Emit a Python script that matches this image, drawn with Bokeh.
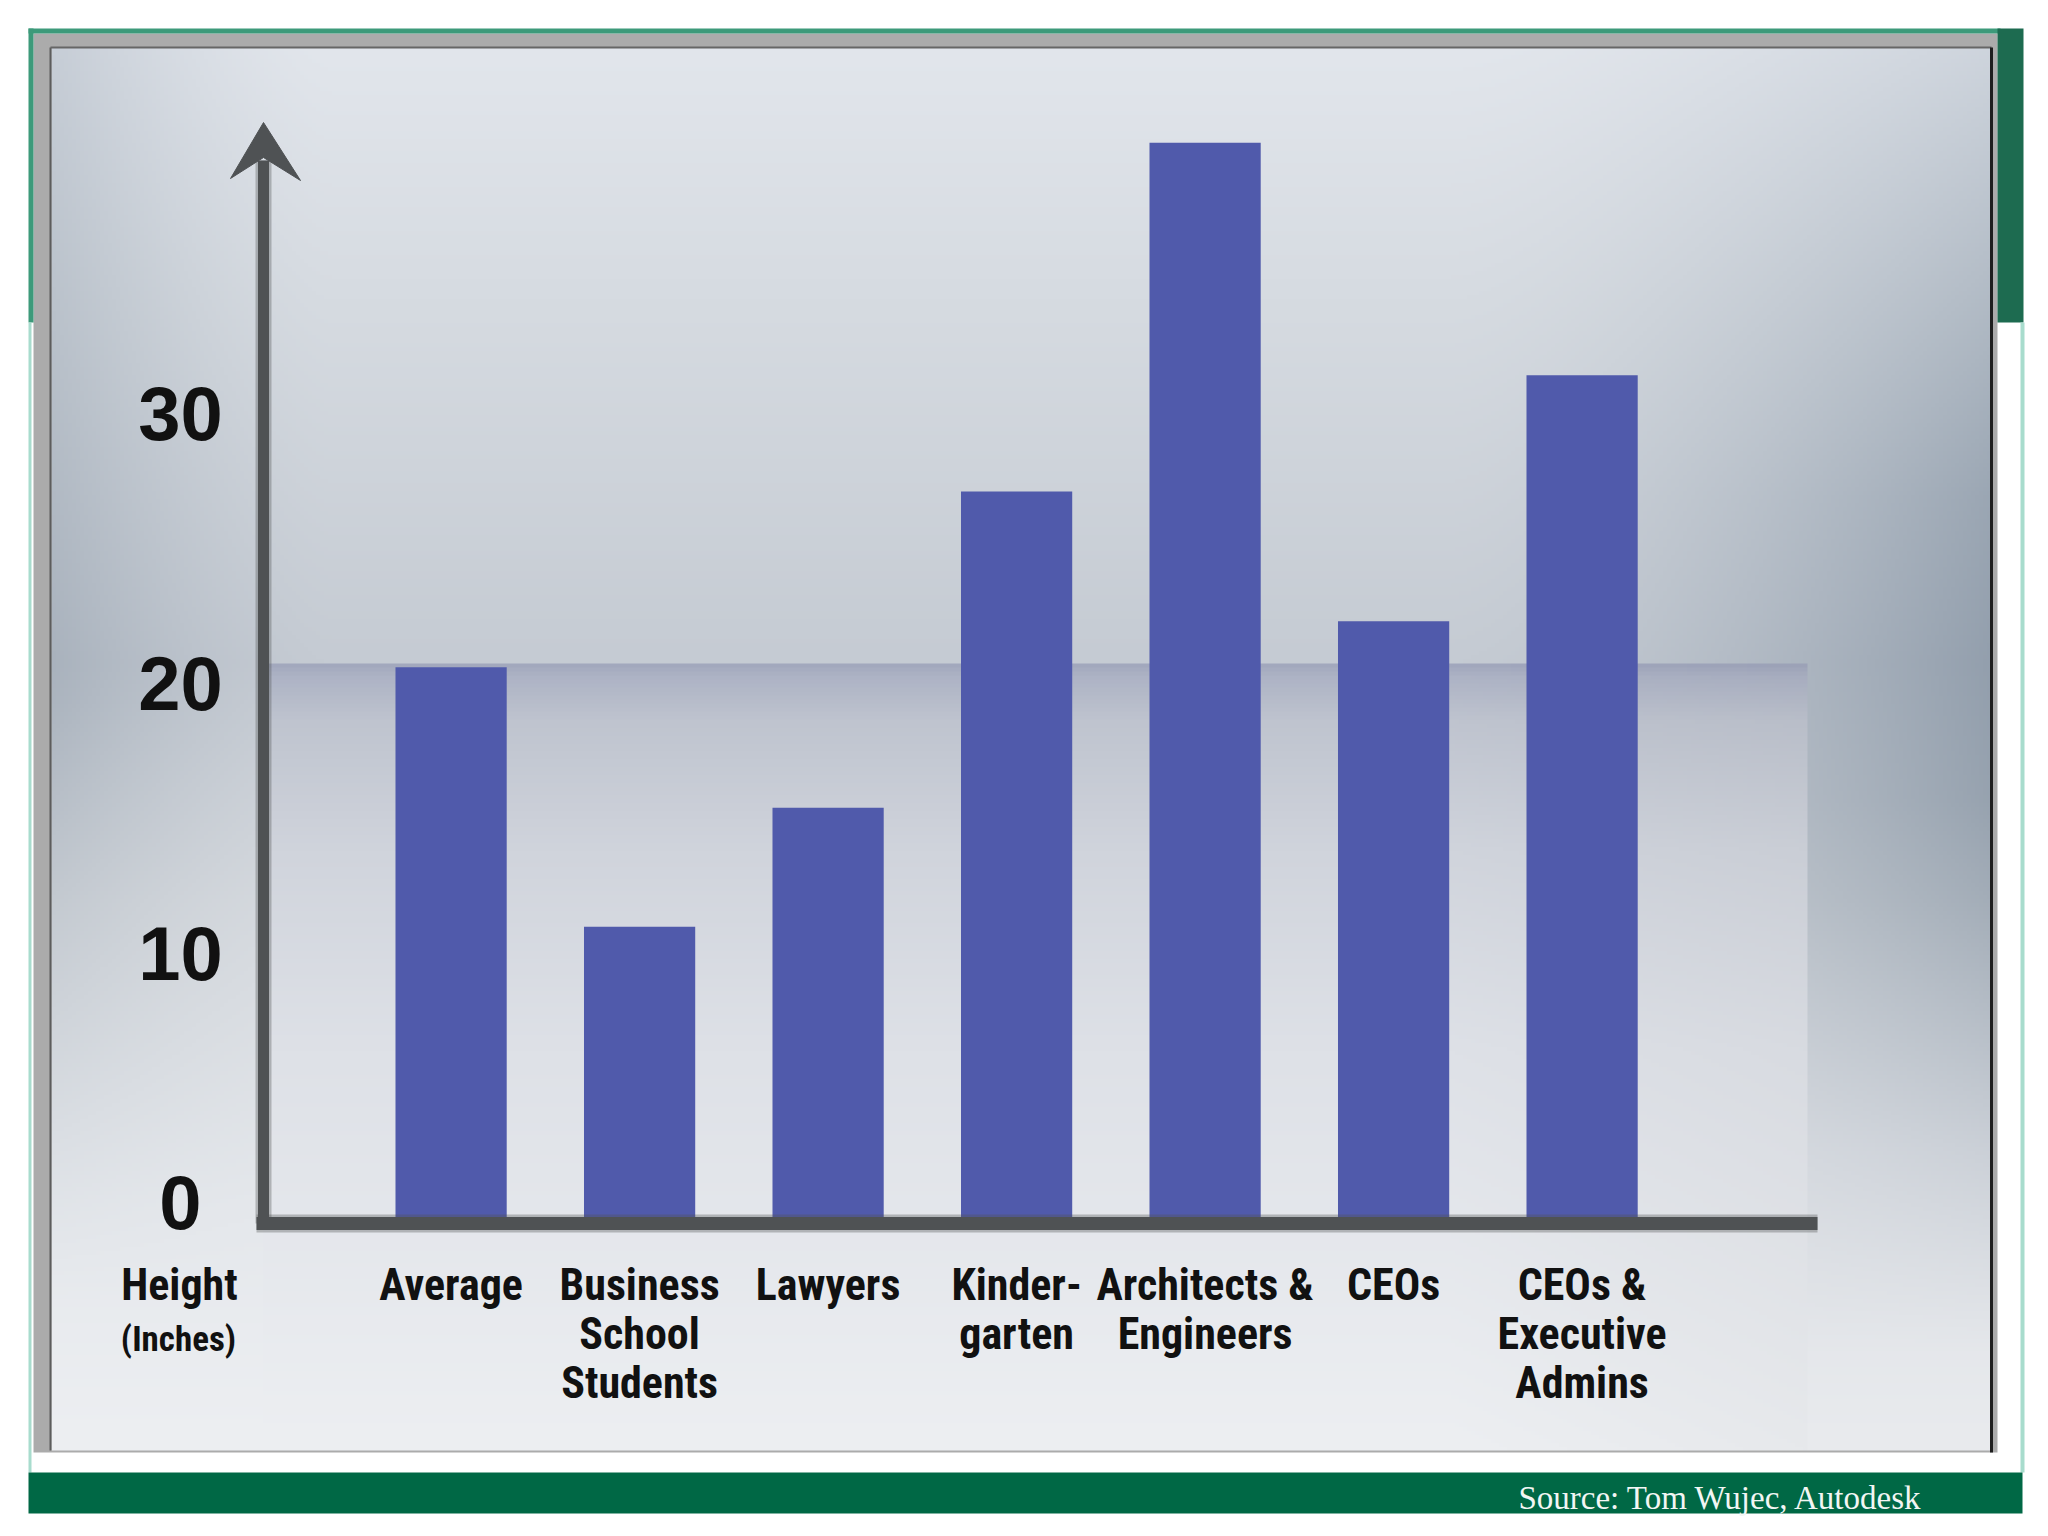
import numpy as np
from bokeh.plotting import figure
from bokeh.models import Range1d, ColumnDataSource
from bokeh.core.properties import value
from bokeh.embed import file_html
from bokeh.resources import INLINE

# --- chart data -------------------------------------------------------------
categories = [
    "Average",
    "Business\nSchool\nStudents",
    "Lawyers",
    "Kinder-\ngarten",
    "Architects &\nEngineers",
    "CEOs",
    "CEOs &\nExecutive\nAdmins",
]
heights = [20.6, 11.0, 15.4, 27.1, 40.0, 22.3, 31.4]
y_ticks = [0, 10, 20, 30]
y_tick_labels = ["0", "10", "20", "30"]
axis_title = "Height"
axis_unit = "(Inches)"
source_note = "Source: Tom Wujec, Autodesk"

# --- layout (page pixels) ---------------------------------------------------
W, H = 2040, 1528
BAR0, STEP = 450.6, 188.5      # centre of first bar, distance between bars
ZERO, UNIT = 1223.5, 27.03     # y pixel of value 0, pixels per inch
COND = "Roboto Condensed, DejaVu Sans Condensed, Liberation Sans Narrow, Roboto"
AXIS = "#4f5254"

p = figure(width=W, height=H, output_backend="svg", toolbar_location=None,
           x_axis_type=None, y_axis_type=None, min_border=0,
           x_range=Range1d(-BAR0 / STEP, (W - BAR0) / STEP),
           y_range=Range1d(-(H - ZERO) / UNIT, ZERO / UNIT))
p.grid.visible = False
p.outline_line_color = None
p.background_fill_color = "white"
p.border_fill_color = "white"
# pixel coordinates for the decoration (y is negated page y)
p.extra_x_ranges = {"px": Range1d(0, W)}
p.extra_y_ranges = {"px": Range1d(-H, 0)}
PX = dict(x_range_name="px", y_range_name="px")


def stops(t, pts):
    pos = [s[0] for s in pts]
    return np.stack([np.interp(t, pos, [s[1][c] for s in pts]) for c in range(3)], axis=-1)


# background "room" gradient
step = 4
xs = np.arange(51, 1991, step) + step / 2
ys = np.arange(47, 1450, step) + step / 2
X, Y = np.meshgrid(xs, ys)
left_w = (np.clip((330 - X) / 280, 0, 1) ** 1.5)[..., None]
left_dark = left_w * np.array([28, 25, 22])
right_w = (np.clip((X - 1450) / 540, 0, 1) ** 1.6 * (0.4 + 0.6 * np.clip((Y - 47) / 450, 0, 1)))[..., None]
right_dark = right_w * np.array([50, 44, 38])
wall = stops(Y, [(47, (226, 230, 236)), (300, (214, 219, 225)), (663, (197, 203, 211))]) - left_dark - right_dark
floor = stops(Y, [(663, (160, 166, 188)), (676, (173, 179, 197)), (720, (191, 196, 207)),
                  (850, (208, 212, 220)), (1050, (222, 225, 231)), (1450, (237, 239, 242))])
floor -= (np.clip((X - 1450) / 355, 0, 1) * 6)[..., None]
side = stops(Y, [(663, (197, 203, 211)), (900, (204, 209, 215)), (1150, (221, 224, 229)), (1450, (233, 235, 238))])
side -= right_dark * np.clip((1350 - Y) / 550, 0, 1)[..., None]
left = stops(Y, [(663, (197, 203, 211)), (900, (214, 218, 223)), (1200, (229, 232, 236)), (1450, (237, 239, 242))])
left -= left_dark * np.clip((1300 - Y) / 600, 0, 1)[..., None]
img = np.where((Y < 663)[..., None], wall,
               np.where((X < 265)[..., None], left, np.where((X > 1805)[..., None], side, floor)))
rgba = np.empty(img.shape[:2] + (4,), dtype=np.uint8)
rgba[..., :3] = np.clip(img, 0, 255).astype(np.uint8)
rgba[..., 3] = 255
bg = rgba.view(np.uint32).reshape(img.shape[:2])[::-1]

# frames
p.quad(left=33, right=1997, top=-33, bottom=-1452, fill_color="#ababab", line_color=None, **PX)
p.image_rgba(image=[bg], x=51, y=-1450, dw=1940, dh=1403, **PX)
p.line(x=[50, 50], y=[-47, -1450], line_color="#5c5c5c", line_width=2, **PX)
p.line(x=[50, 1991], y=[-47, -47], line_color="#666666", line_width=2, **PX)
p.line(x=[1991, 1991], y=[-47, -1452], line_color="#1e1e1e", line_width=3, **PX)
p.quad(left=28, right=2000, top=-28, bottom=-33, fill_color="#3d9a7a", line_color=None, **PX)
p.quad(left=28, right=33, top=-28, bottom=-322, fill_color="#3d9a7a", line_color=None, **PX)
p.quad(left=1997, right=2023, top=-28, bottom=-322, fill_color="#1d6b50", line_color=None, **PX)
p.quad(left=28, right=31, top=-322, bottom=-1472, fill_color="#a8dccd", line_color=None, **PX)
p.quad(left=2020, right=2024, top=-322, bottom=-1472, fill_color="#a8dccd", line_color=None, **PX)
p.quad(left=28, right=2022, top=-1472, bottom=-1513, fill_color="#006845", line_color=None, **PX)

# bars
bars = ColumnDataSource(data=dict(x=list(range(len(categories))), top=heights, label=categories))
p.vbar(x="x", top="top", bottom=0, width=0.59, source=bars, fill_color="#505aab", line_color=None)

# hand-drawn axes: a soft halo under a solid stroke
for lw, alpha in ((16, 0.35), (11, 1.0)):
    p.line(x=[263, 263], y=[-1223, -160], line_color=AXIS, line_width=lw, line_alpha=alpha, **PX)
    p.line(x=[256, 1817], y=[-1223, -1223], line_color=AXIS, line_width=lw + 2, line_alpha=alpha, **PX)
p.patch(x=[263, 300, 263, 230], y=[-122, -180, -157, -178], fill_color=AXIS, line_color=AXIS, **PX)

# tick labels
ticks = ColumnDataSource(data=dict(x=[180] * len(y_ticks), y=y_ticks, text=y_tick_labels,
                                   off=[-22 if t == 0 else 0 for t in y_ticks]))
p.text(x="x", y="y", text="text", y_offset="off", source=ticks, x_range_name="px",
       text_align="center", text_baseline="middle", text_font=value("Liberation Sans"),
       text_font_style="bold", text_font_size="76px", text_color="#111111")

# category labels
p.text(x="x", y=-1258, text="label", source=bars, y_range_name="px",
       text_align="center", text_baseline="top", text_font=value(COND),
       text_font_style="bold", text_font_size="44px", text_line_height=0.95, text_color="#111111")
p.text(x=[179], y=[-1258], text=[axis_title], text_align="center", text_baseline="top",
       text_font=value(COND), text_font_style="bold", text_font_size="44px",
       text_color="#111111", **PX)
p.text(x=[178], y=[-1318], text=[axis_unit], text_align="center", text_baseline="top",
       text_font=value(COND), text_font_style="bold", text_font_size="35px", text_color="#111111", **PX)

# source
p.text(x=[1923], y=[-1497], text=[source_note], text_align="right", text_baseline="middle",
       text_font=value("Liberation Serif"), text_font_size="33px", text_color="#f2f6f4", **PX)

open("out.html", "w").write(file_html(p, INLINE))
